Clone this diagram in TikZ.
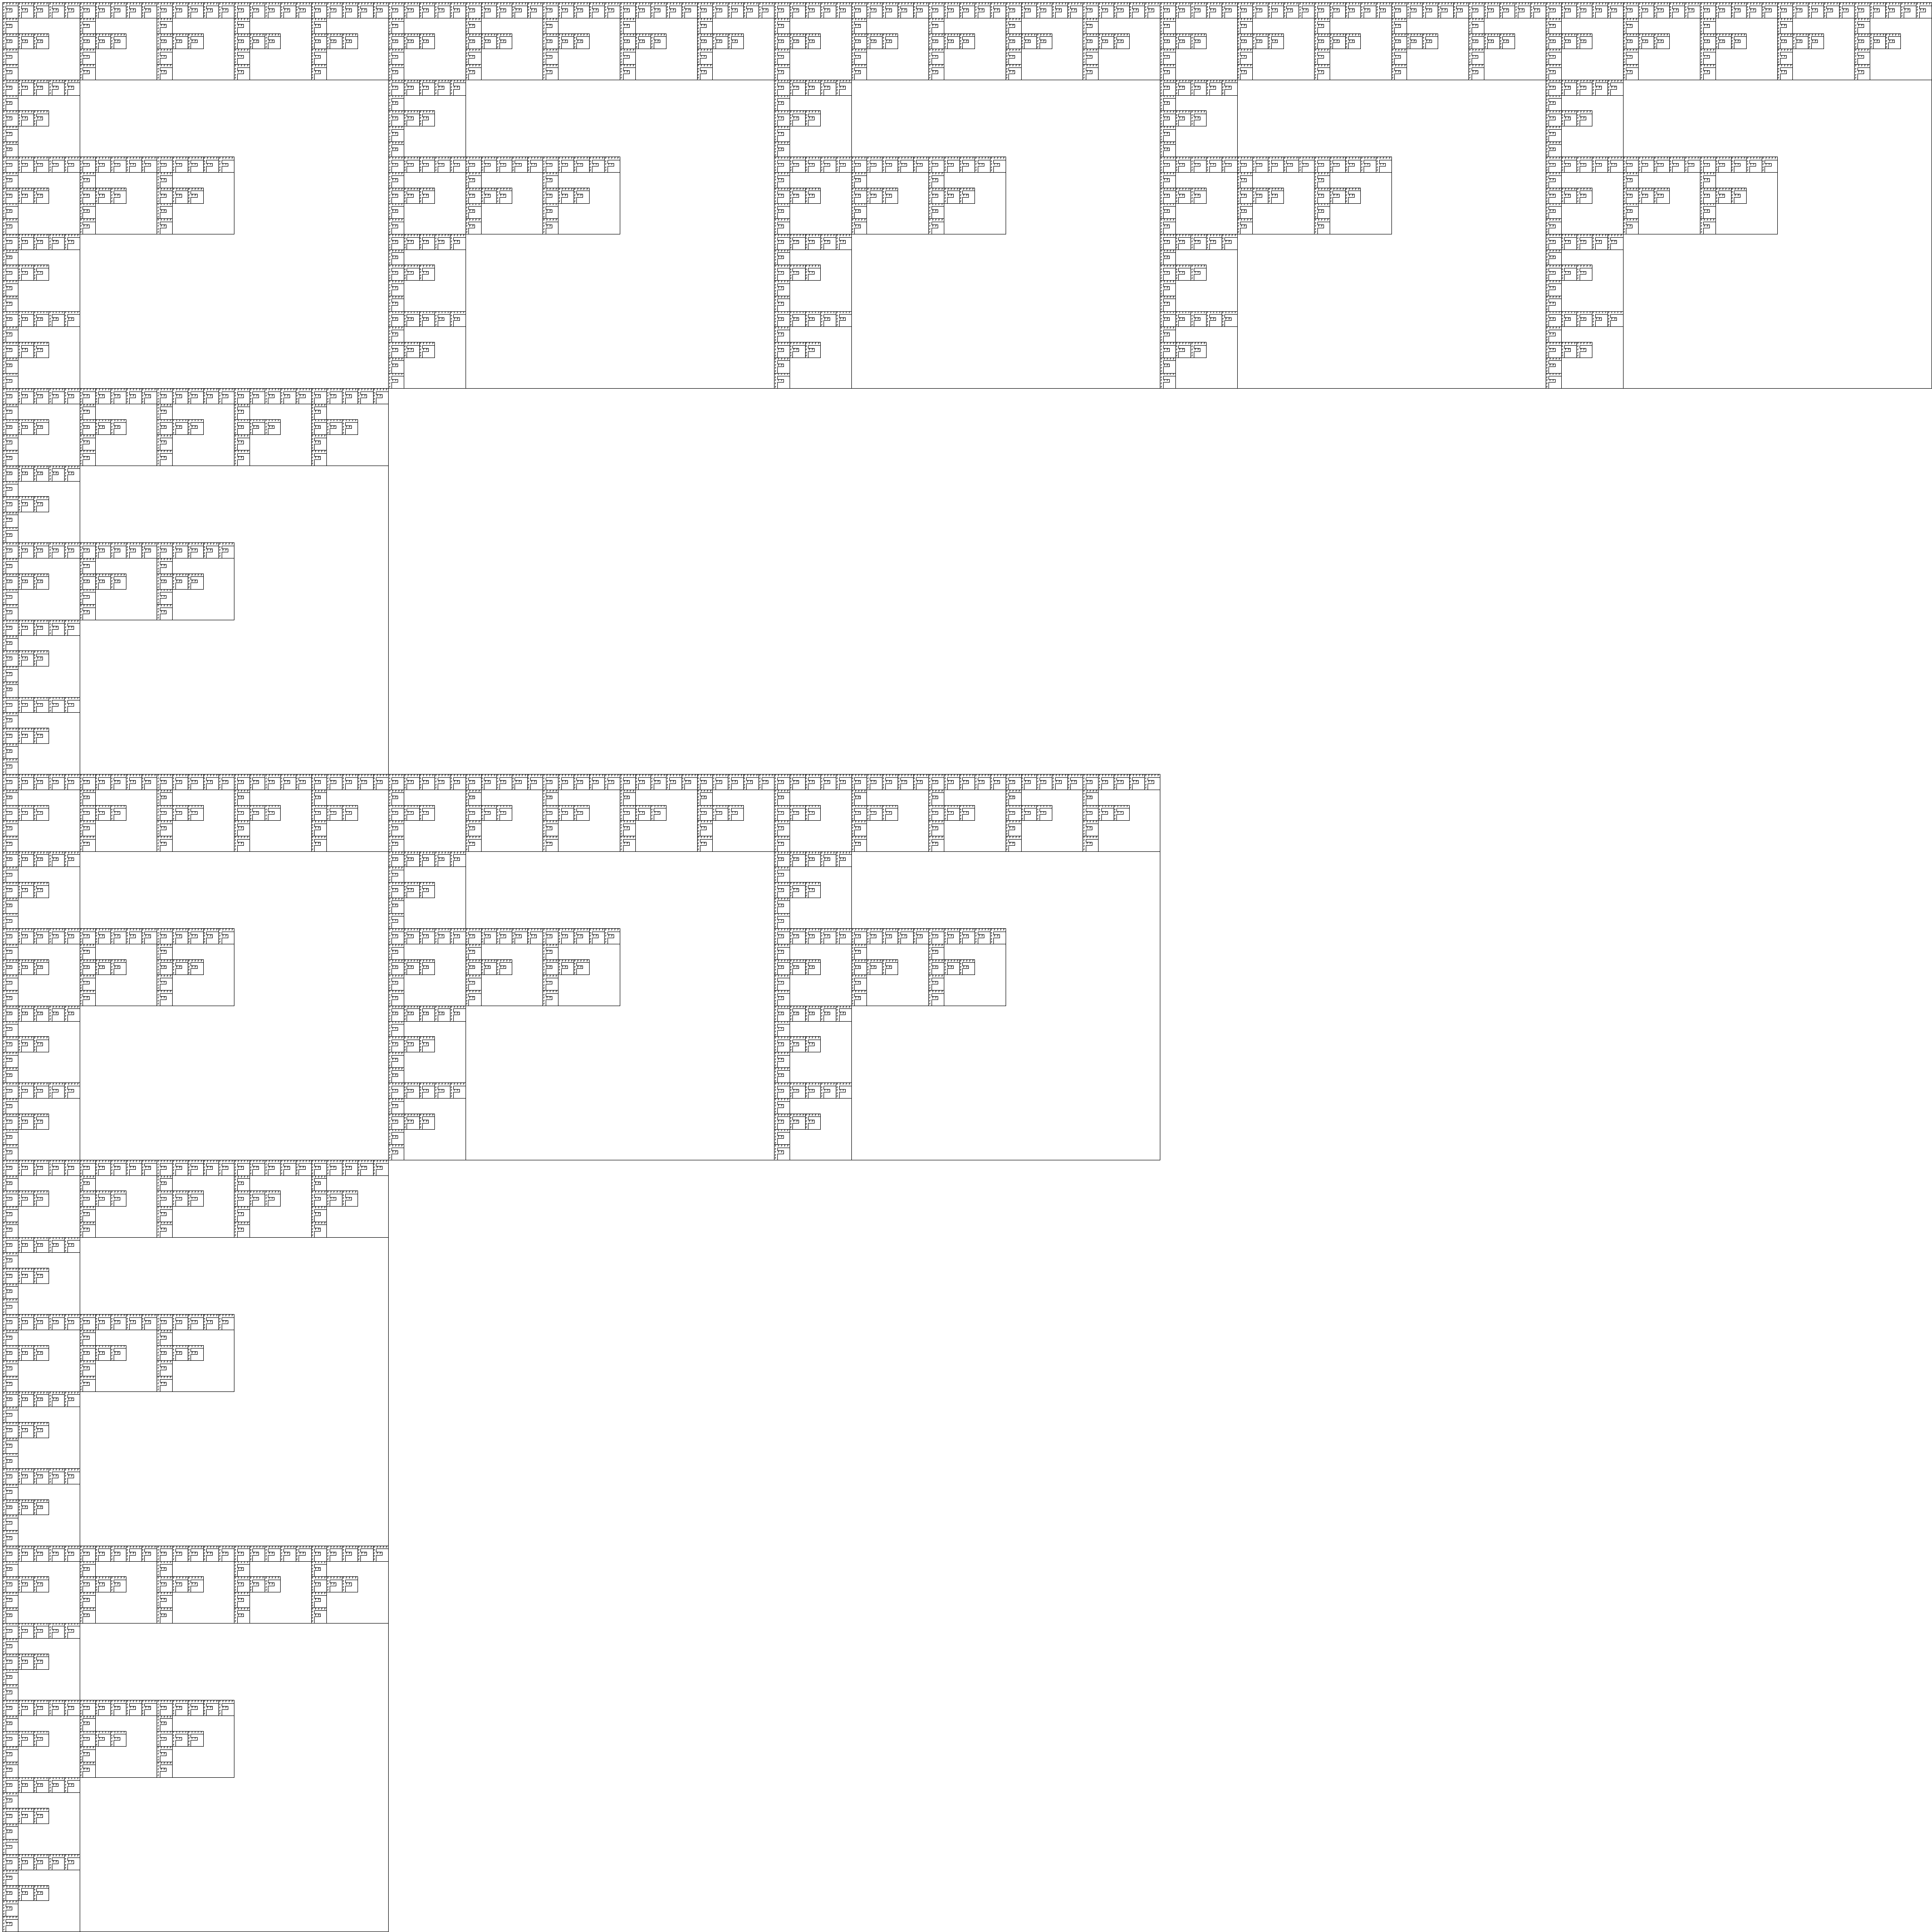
\documentclass[tikz,border=0pt]{standalone}

% one character cell: 2mm square, F near its top left corner
\def\Fc{\hbox to 2mm{\hskip0.28mm\vbox to 2mm{\vskip0.22mm\hbox{F}\vss}\hss}}
\def\Fglyphs{\vbox{\offinterlineskip
  \hbox{\Fc\Fc\Fc\Fc\Fc}\hbox{\Fc}\hbox{\Fc\Fc\Fc}\hbox{\Fc}\hbox{\Fc}}}

% corner of a sub-cell, in character cells
\def\FX#1{\the\numexpr\fx+#1*\fs\relax}
\def\FY#1{\the\numexpr\fy+#1*\fs\relax}
\def\Fnext#1#2{\edef\Fcall{\noexpand\Fblock{\ft}{\FX#1}{\FY#2}}\Fcall}

% #1 = size of one sub-cell, #2,#3 = top left corner
\newcommand\Fblock[3]{%
  \begingroup
  \edef\fs{#1}\edef\fx{#2}\edef\fy{#3}%
  \draw[fline] (\FX0,\FY0) -- (\FX5,\FY0) -- (\FX5,\FY1) -- (\FX1,\FY1)
    -- (\FX1,\FY2) -- (\FX3,\FY2) -- (\FX3,\FY3) -- (\FX1,\FY3)
    -- (\FX1,\FY5) -- (\FX0,\FY5) -- cycle;
  \ifnum\fs=1
    \node[fchar] at (\FX0,\FY0) {\Fglyphs};
  \else
    \edef\ft{\the\numexpr\fs/5\relax}%
    \Fnext00\Fnext10\Fnext20\Fnext30\Fnext40%
    \Fnext01%
    \Fnext02\Fnext12\Fnext22%
    \Fnext03%
    \Fnext04%
  \fi
  \endgroup}

\begin{document}
\begin{tikzpicture}[
  x=2mm, y=-2mm,
  fline/.style={line width=0.7pt, line join=miter},
  fchar/.style={anchor=north west, inner sep=0pt,
    font=\sffamily\bfseries\fontsize{5pt}{6pt}\selectfont},
]
  \useasboundingbox (-0.875,-0.875) rectangle (625.125,625.125);
  \Fblock{125}{0}{0}
\end{tikzpicture}
\end{document}
